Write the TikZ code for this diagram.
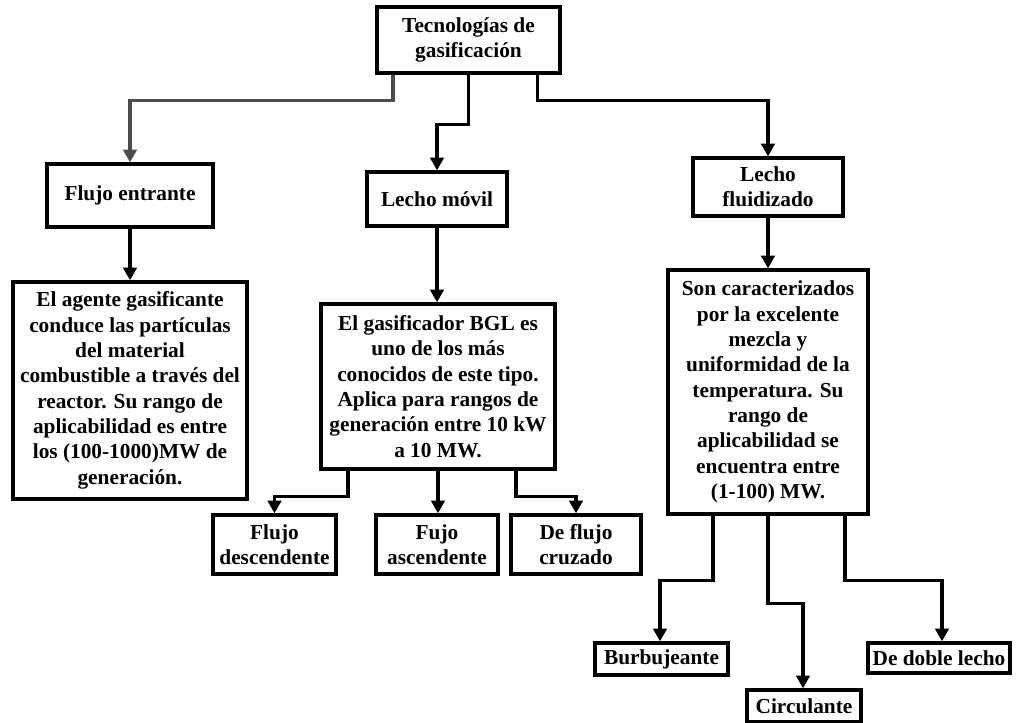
\documentclass[tikz,border=0pt]{standalone}
\usepackage{fontspec}
\setmainfont{Liberation Serif}
\usetikzlibrary{arrows.meta,calc}
\begin{document}
\begin{tikzpicture}[x=0.75pt,y=-0.75pt,
  box/.style={draw,line width=2.5pt,align=center,inner sep=0pt,
    font=\bfseries\fontsize{16}{19}\selectfont},
  arr/.style={line width=2.5pt,-{Triangle[width=10pt,length=9.5pt]}}]
\useasboundingbox (0,0) rectangle (1016,723);

% first level
\node[box,minimum width=137.25pt,minimum height=49.5pt] (top) at (468.5,40)
  {Tecnologías de\\gasificación};
\node[box,minimum width=124.5pt,minimum height=47.25pt] (fe) at (130,195.5)
  {Flujo entrante};
\node[box,minimum width=105pt,minimum height=40.5pt] (lm) at (437,199)
  {Lecho móvil};
\node[box,minimum width=112.5pt,minimum height=43.5pt] (lf) at (768,187)
  {Lecho\\fluidizado};

% descriptions
\node[box,minimum width=175.5pt,minimum height=162.75pt] (dl) at (130,390.5)
  {El agente gasificante\\conduce las partículas\\del material\\combustible a través del\\reactor. Su rango de\\aplicabilidad es entre\\los (100-1000)MW de\\generación.};
\node[box,minimum width=175.5pt,minimum height=123.75pt] (dm) at (438,386.5)
  {El gasificador BGL es\\uno de los más\\conocidos de este tipo.\\Aplica para rangos de\\generación entre 10 kW\\a 10 MW.};
\node[box,minimum width=150pt,minimum height=183pt] (dr) at (768,392)
  {Son caracterizados\\por la excelente\\mezcla y\\uniformidad de la\\temperatura. Su\\rango de\\aplicabilidad se\\encuentra entre\\(1-100) MW.};

% moving bed types
\node[box,minimum width=92.25pt,minimum height=44.25pt] (fd) at (274.5,544.5)
  {Flujo\\descendente};
\node[box,minimum width=91.5pt,minimum height=44.25pt] (fa) at (437,544.5)
  {Fujo\\ascendente};
\node[box,minimum width=97.5pt,minimum height=44.25pt] (fc) at (576,544.5)
  {De flujo\\cruzado};

% fluidized bed types
\node[box,minimum width=99.75pt,minimum height=24pt] (bu) at (661.5,659)
  {Burbujeante};
\node[box,minimum width=85.5pt,minimum height=24pt] (ci) at (804,706)
  {Circulante};
\node[box,minimum width=106.5pt,minimum height=22.5pt] (dd) at (939,658)
  {De doble lecho};

% connectors
\draw[arr,black!70] ($(top.south)+(-75.5,0)$) -- ++(0,26) -| (fe.north);
\draw[arr] (top.south) -- ++(0,50) -| (lm.north);
\draw[arr] ($(top.south)+(69,0)$) -- ++(0,26) -| (lf.north);

\draw[arr] (fe.south) -- (dl.north);
\draw[arr] (lm.south) -- (lm.south |- dm.north);
\draw[arr] (lf.south) -- (dr.north);

\draw[arr] ($(dm.south)+(-90,0)$) -- ++(0,26) -| (fd.north);
\draw[arr] (dm.south) -- (dm.south |- fa.north);
\draw[arr] ($(dm.south)+(78,0)$) -- ++(0,26) -| (fc.north);

\draw[arr] ($(dr.south)+(-55,0)$) -- ++(0,65) -| ($(bu.north)+(-1.5,0)$);
\draw[arr] (dr.south) -- ++(0,88) -| ($(ci.north)+(-1,0)$);
\draw[arr] ($(dr.south)+(77,0)$) -- ++(0,65) -| ($(dd.north)+(3,0)$);
\end{tikzpicture}
\end{document}
